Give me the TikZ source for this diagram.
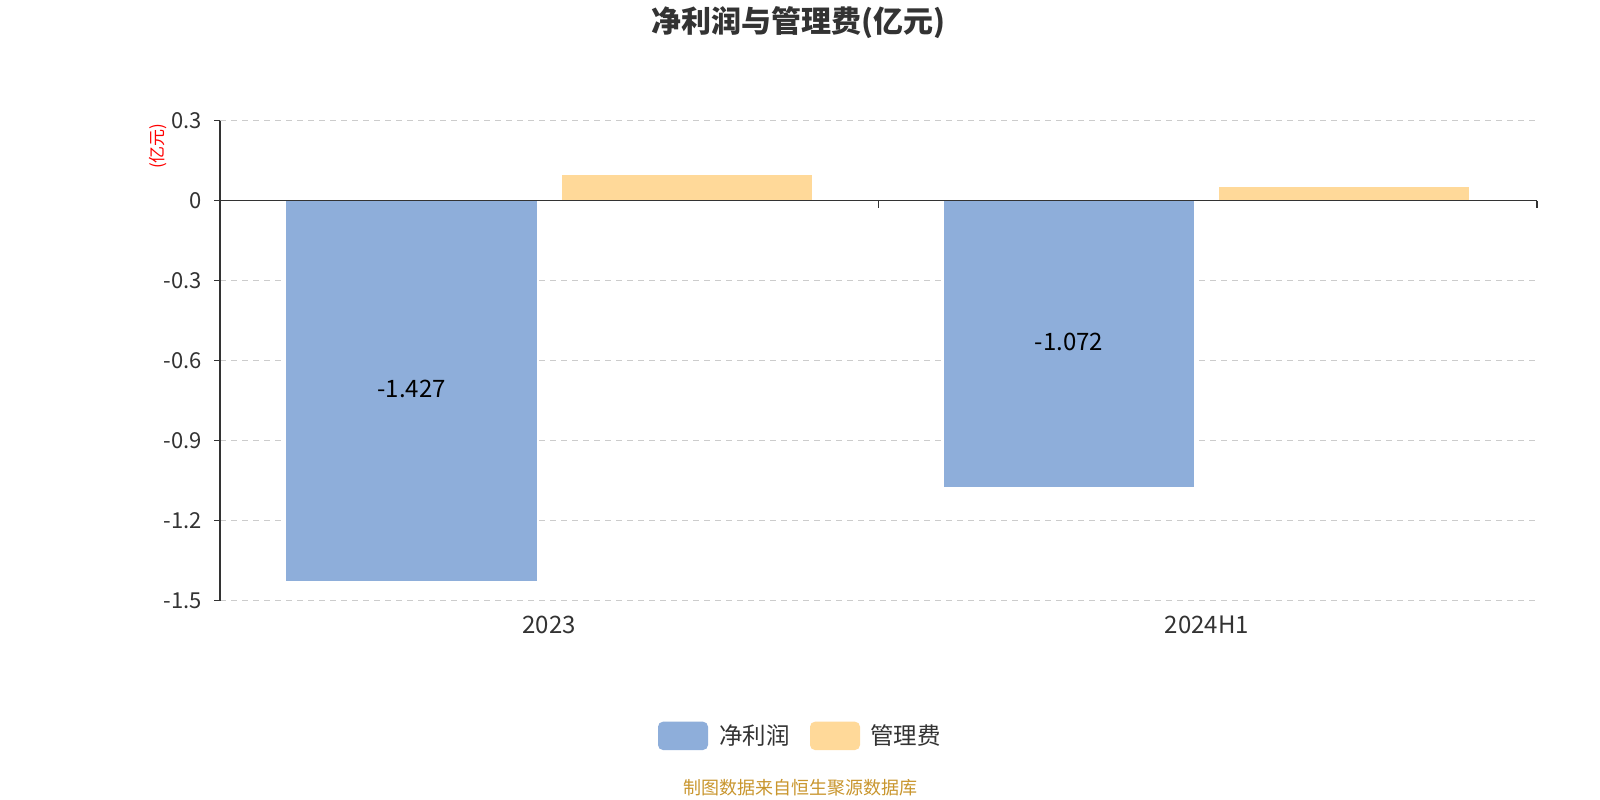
\documentclass[tikz,border=0pt]{standalone}
\usepackage{fontspec}
\setmainfont{Noto Sans CJK SC}
\definecolor{barblue}{HTML}{8EAEDA}
\definecolor{barorange}{HTML}{FFD999}
\definecolor{txt}{HTML}{333333}
\definecolor{gridc}{HTML}{CCCCCC}
\definecolor{footc}{HTML}{C9962E}
\tikzset{
  gridline/.style={draw=gridc, line width=1.2pt, dash pattern=on 6pt off 5pt},
  axisline/.style={draw=txt, line width=1.5pt},
  ticklab/.style={text=txt, font=\fontsize{22}{24}\selectfont, inner sep=0pt},
  catlab/.style={text=txt, font=\fontsize{24}{26}\selectfont, inner sep=0pt},
  valuelab/.style={text=black, font=\fontsize{24}{26}\selectfont, inner sep=0pt},
  legendtxt/.style={text=txt, font=\fontsize{23.5}{26}\selectfont, inner sep=0pt, anchor=west},
  legendbox/.style={rounded corners=5pt, draw=none},
}
\begin{document}
\begin{tikzpicture}[x=1pt,y=-1pt]
\useasboundingbox[fill=white] (0,0) rectangle (1600,800);
% title
\node[text=txt, font=\fontsize{30}{32}\selectfont\bfseries, inner sep=0pt] (title) at (798,23) {净利润与管理费(亿元)};
% unit label
\node[text=red, font=\fontsize{17}{19}\selectfont, rotate=90, inner sep=0pt] (unit) at (158,146) {(亿元)};
% grid
\foreach \yy in {120.7,280.7,360.7,440.7,520.7,600.7}{
  \draw[gridline] (220,\yy) -- (1537,\yy);
}
% bars
\fill[barblue] (286,200.7) rectangle (537,581.2);
\fill[barorange] (562,200.7) rectangle (812,174.5);
\fill[barblue] (944,200.7) rectangle (1194,486.6);
\fill[barorange] (1219,200.7) rectangle (1469,186.7);
% axes
\coordinate (yt) at (220,120.7);
\coordinate (yb) at (220,600.7);
\coordinate (xl) at (220,200.7);
\coordinate (xr) at (1537,200.7);
\draw[axisline] (yt) -- (yb);
\draw[axisline] (xl) -- (xr);
\foreach \yy in {120.7,200.7,280.7,360.7,440.7,520.7,600.7}{
  \draw[axisline] (214,\yy) -- (220,\yy);
}
\foreach \xx in {878.5,1537}{
  \draw[axisline] (\xx,200.7) -- (\xx,207.7);
}
% y tick labels
\node[ticklab, anchor=east] (l03) at (202,120.7) {0.3};
\node[ticklab, anchor=east] (l0) at (202,200.7) {0};
\node[ticklab, anchor=east] (lm03) at (202,280.7) {-0.3};
\node[ticklab, anchor=east] (lm06) at (202,360.7) {-0.6};
\node[ticklab, anchor=east] (lm09) at (202,440.7) {-0.9};
\node[ticklab, anchor=east] (lm12) at (202,520.7) {-1.2};
\node[ticklab, anchor=east] (lm15) at (202,600.7) {-1.5};
% x labels
\node[catlab] (c1) at (549,625) {2023};
\node[catlab] (c2) at (1207,625) {2024H1};
% value labels
\node[valuelab] (v1) at (411.5,389) {-1.427};
\node[valuelab] (v2) at (1069,342) {-1.072};
% legend
\fill[legendbox, barblue] (658,721.7) rectangle (708,750);
\node[legendtxt] (lg1) at (719,735.5) {净利润};
\fill[legendbox, barorange] (810,721.7) rectangle (860,750);
\node[legendtxt] (lg2) at (870,735.5) {管理费};
% footer
\node[text=footc, font=\fontsize{18}{20}\selectfont, inner sep=0pt] (foot) at (800,788) {制图数据来自恒生聚源数据库};
\end{tikzpicture}
\end{document}
